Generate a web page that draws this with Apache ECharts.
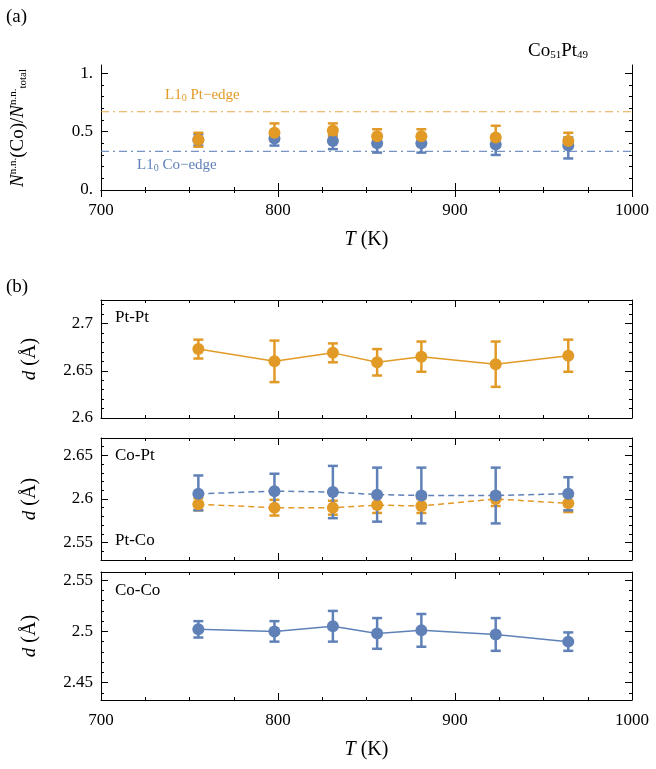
<!DOCTYPE html>
<html><head><meta charset="utf-8">
<script src="https://cdn.jsdelivr.net/npm/echarts@6/dist/echarts.min.js"></script>
<style>html,body{margin:0;background:#fff}#main{width:656px;height:769px}</style>
</head><body><div id="main"></div>
<script>
var temps = [755, 798, 831, 856, 881, 923, 964]
// panel (a): [value, low, high]
var nnCo = [[0.43,0.38,0.48],[0.44,0.38,0.49],[0.42,0.35,0.47],[0.40,0.32,0.46],[0.40,0.32,0.46],[0.39,0.30,0.46],[0.38,0.27,0.45]]
var nnPt = [[0.43,0.37,0.49],[0.49,0.42,0.57],[0.51,0.46,0.57],[0.46,0.40,0.52],[0.46,0.40,0.52],[0.45,0.37,0.55],[0.42,0.37,0.49]]
var ptEdge = 0.67, coEdge = 0.33
var dPtPt = [[2.673,2.663,2.683],[2.660,2.638,2.682],[2.669,2.659,2.679],[2.659,2.645,2.673],[2.665,2.649,2.681],[2.657,2.633,2.681],[2.666,2.649,2.683]]
var dCoPt = [[2.606,2.587,2.627],[2.609,2.590,2.629],[2.608,2.578,2.638],[2.605,2.574,2.636],[2.604,2.572,2.636],[2.604,2.572,2.636],[2.606,2.587,2.625]]
var dPtCo = [[2.594,2.587,2.601],[2.590,2.581,2.599],[2.590,2.582,2.598],[2.593,2.584,2.602],[2.592,2.584,2.600],[2.600,2.592,2.607],[2.595,2.585,2.603]]
var dCoCo = [[2.502,2.494,2.510],[2.500,2.490,2.510],[2.505,2.490,2.520],[2.498,2.483,2.513],[2.501,2.485,2.517],[2.497,2.481,2.513],[2.490,2.481,2.499]]
// tick labels per panel
var yTicks = [[0, 0.5, 1], [2.6, 2.65, 2.7], [2.55, 2.6, 2.65], [2.45, 2.5, 2.55]]
var yTickText = [['0.', '0.5', '1.'], ['2.6', '2.65', '2.7'], ['2.55', '2.6', '2.65'], ['2.45', '2.5', '2.55']]
var yMinor = [0.1, 0.01, 0.01, 0.01]
var yRange = [[0, 1.07], [2.6, 2.725], [2.53, 2.67], [2.433, 2.558]]

var BLUE = '#5f81b8', ORANGE = '#e29a27'
var FONT = 'Liberation Serif'
var chart = echarts.init(document.getElementById('main'))

var grids = [
  {left: 101, right: 24, top: 65, height: 125},
  {left: 101, right: 24, top: 300, height: 118},
  {left: 101, right: 24, top: 438, height: 122},
  {left: 101, right: 24, top: 572, height: 128}
]

function minorVals(lo, hi, step) {
  var out = []
  for (var v = Math.ceil(lo / step - 1e-6) * step; v <= hi + 1e-9; v += step) out.push(+v.toFixed(4))
  return out
}
var BLK = {color: '#000'}
var xAxis = [], yAxis = []
grids.forEach(function (g, i) {
  var labels = (i === 0 || i === 3)
  ;['bottom', 'top'].forEach(function (pos) {
    xAxis.push({gridIndex: i, type: 'value', min: 700, max: 1000, interval: 100, position: pos,
      axisLine: {lineStyle: BLK}, splitLine: {show: false},
      axisTick: {inside: true, length: 7, lineStyle: BLK},
      minorTick: {show: true, splitNumber: 4, length: 3, lineStyle: BLK},
      axisLabel: {show: labels && pos === 'bottom', color: '#000', fontFamily: FONT, fontSize: 17, margin: 12, formatter: function (v) { return String(v) }},
      name: labels && pos === 'bottom' ? '{i|T} (K)' : '', nameLocation: 'middle', nameGap: 40,
      nameTextStyle: {color: '#000', fontFamily: FONT, fontSize: 20, rich: {i: {fontStyle: 'italic', fontSize: 20, fontFamily: FONT}}}})
  })
  var r = yRange[i]
  ;['left', 'right'].forEach(function (pos) {
    yAxis.push({gridIndex: i, type: 'value', min: r[0], max: r[1], position: pos,
      axisLine: {show: true, lineStyle: BLK}, splitLine: {show: false},
      axisTick: {inside: true, length: 7, lineStyle: BLK, customValues: yTicks[i]},
      axisLabel: {show: pos === 'left', color: '#000', fontFamily: FONT, fontSize: 17, margin: 8,
        customValues: yTicks[i], formatter: function (v) { return yTickText[i][yTicks[i].indexOf(+v.toFixed(4))] }}})
    // minor ticks
    yAxis.push({gridIndex: i, type: 'value', min: r[0], max: r[1], position: pos,
      axisLine: {show: false}, splitLine: {show: false}, axisLabel: {show: false},
      axisTick: {inside: true, length: 3, lineStyle: BLK, customValues: minorVals(r[0], r[1], yMinor[i])}})
  })
})

function pts(d) { return d.map(function (p, k) { return [temps[k], p[0], p[1], p[2]] }) }
function errSeries(d, gi, color) {
  return {type: 'custom', xAxisIndex: gi * 2, yAxisIndex: gi * 4, data: pts(d), z: 3,
    renderItem: function (params, api) {
      var x = api.value(0)
      var lo = api.coord([x, api.value(2)]), hi = api.coord([x, api.value(3)])
      var st = {stroke: color, lineWidth: 2.5}
      return {type: 'group', children: [
        {type: 'line', shape: {x1: lo[0], y1: lo[1], x2: hi[0], y2: hi[1]}, style: st},
        {type: 'line', shape: {x1: lo[0] - 5, y1: lo[1], x2: lo[0] + 5, y2: lo[1]}, style: st},
        {type: 'line', shape: {x1: hi[0] - 5, y1: hi[1], x2: hi[0] + 5, y2: hi[1]}, style: st}
      ]}
    }}
}
function lineSeries(d, gi, color, ltype, showLine) {
  return {type: 'line', xAxisIndex: gi * 2, yAxisIndex: gi * 4, data: pts(d).map(function (p) { return [p[0], p[1]] }),
    symbol: 'circle', symbolSize: 12, itemStyle: {color: color}, z: 4,
    lineStyle: {color: color, width: 1.5, type: ltype, opacity: showLine ? 1 : 0}}
}
function hline(v, color) {
  return {type: 'line', xAxisIndex: 0, yAxisIndex: 0, data: [[700, v], [1000, v]], symbol: 'none',
    lineStyle: {color: color, width: 1.2, type: [8, 4, 2, 4], opacity: 0.85}}
}

var series = [
  hline(ptEdge, ORANGE), hline(coEdge, BLUE),
  errSeries(nnCo, 0, BLUE), lineSeries(nnCo, 0, BLUE, 'solid', false),
  errSeries(nnPt, 0, ORANGE), lineSeries(nnPt, 0, ORANGE, 'solid', false),
  errSeries(dPtPt, 1, ORANGE), lineSeries(dPtPt, 1, ORANGE, 'solid', true),
  errSeries(dPtCo, 2, ORANGE), lineSeries(dPtCo, 2, ORANGE, [6, 4], true),
  errSeries(dCoPt, 2, BLUE), lineSeries(dCoPt, 2, BLUE, [6, 4], true),
  errSeries(dCoCo, 3, BLUE), lineSeries(dCoCo, 3, BLUE, 'solid', true)
]

function txt(x, y, s, size) {
  return {type: 'text', left: x, top: y, style: {text: s, fill: '#000', font: (size || 17) + 'px "' + FONT + '"'}}
}
var rich = {i: {fontStyle: 'italic', fontSize: 19, fontFamily: FONT}, n: {fontSize: 19, fontFamily: FONT},
  s: {fontSize: 11, fontFamily: FONT, verticalAlign: 'top', padding: [0, 0, 10, 0]},
  b: {fontSize: 11, fontFamily: FONT, verticalAlign: 'bottom', padding: [8, 0, 0, 0]}}
function dLabel(y) {
  return {type: 'text', x: 30, y: y, rotation: Math.PI / 2, style: {text: '{i|d} (Å)', rich: rich, fill: '#000', font: '20px "' + FONT + '"', align: 'center', verticalAlign: 'middle'}}
}
function edgeLabel(x, y, s, c) {
  return {type: 'text', left: x, top: y, style: {text: 'L1{b|0} ' + s, fill: c, font: '15px "' + FONT + '"',
    rich: {b: {fontSize: 10, fill: c, fontFamily: FONT, verticalAlign: 'bottom', padding: [6, 0, 0, 0]}}}}
}

chart.setOption({
  animation: false,
  grid: grids, xAxis: xAxis, yAxis: yAxis, series: series,
  graphic: [
    txt(6, 8, '(a)', 19), txt(6, 278, '(b)', 19),
    {type: 'text', left: 528, top: 42, style: {text: '{n|Co}{b|51}{n|Pt}{b|49}', rich: rich, fill: '#000'}},
    edgeLabel(165, 88, 'Pt−edge', ORANGE),
    edgeLabel(137, 158, 'Co−edge', BLUE),
    {type: 'text', x: 18, y: 128, rotation: Math.PI / 2, style: {text: '{i|N}{s|n.n.}{n|(Co)/}{i|N}{s|n.n.}{b|total}', rich: rich, fill: '#000', align: 'center', verticalAlign: 'middle'}},
    txt(115, 309, 'Pt-Pt'), txt(115, 447, 'Co-Pt'), txt(115, 532, 'Pt-Co'), txt(115, 582, 'Co-Co'),
    dLabel(359), dLabel(499), dLabel(636)
  ]
})
</script></body></html>
